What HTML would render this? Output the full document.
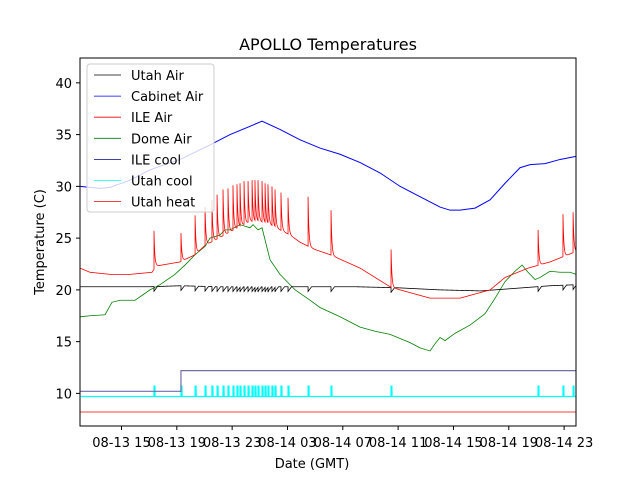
<!DOCTYPE html>
<html><head><meta charset="utf-8"><style>
body{margin:0;background:#fff}
svg text{font-family:"DejaVu Sans","Liberation Sans",sans-serif;fill:#000}
</style></head><body>
<svg id="chart" width="640" height="480" viewBox="0 0 640 480">
<rect width="640" height="480" fill="#fff"/>
<text x="328" y="50" font-size="16" text-anchor="middle">APOLLO Temperatures</text>
<g id="plot"></g>
<g id="axes"></g>
<text x="312" y="468" font-size="13" text-anchor="middle">Date (GMT)</text>
<text transform="translate(44,242) rotate(-90)" font-size="13" text-anchor="middle">Temperature (C)</text>
<g id="legend"></g>
</svg>
<script>
// hours since 08-13 12:00 GMT
const xTickLabels=["08-13 15","08-13 19","08-13 23","08-14 03","08-14 07","08-14 11","08-14 15","08-14 19","08-14 23"];
const xTickHours=[3,7,11,15,19,23,27,31,35];
const yTicks=[10,15,20,25,30,35,40];
const cabinetHours=[0,1.45,2.17,3.62,5.06,7.23,9.4,10.85,12.29,13.16,14.46,15.91,17.35,18.8,20.25,21.69,23.14,24.58,26.03,26.75,27.48,28.56,29.65,30.73,31.81,32.54,33.62,34.71,35.86];
const cabinetVals=[30.0,29.8,29.9,30.6,31.6,32.6,34.0,35.0,35.8,36.3,35.5,34.5,33.7,33.1,32.3,31.3,30.0,29.0,28.0,27.7,27.7,27.9,28.7,30.3,31.8,32.1,32.2,32.6,32.9];
const ileBaseHours=[0,0.72,2.17,3.62,5.21,5.5,7.23,8.32,9.04,9.76,10.85,12.29,13.02,13.74,14.46,15.18,15.91,16.99,18.08,20.25,22.42,23.14,25.31,27.48,29.65,30.73,32.39,33.98,35.86];
const ileBaseVals=[22.1,21.7,21.5,21.5,21.7,22.3,22.7,23.4,24.3,24.8,25.6,26.6,26.6,26.3,25.8,25.3,24.6,23.9,23.4,22.1,20.3,20.0,19.2,19.2,20.0,21.2,22.1,22.7,23.7];
const spikeHours=[5.35,7.3,8.32,9.04,9.54,9.91,10.34,10.7,11.06,11.35,11.57,11.86,12.15,12.44,12.65,12.87,13.16,13.38,13.59,13.88,14.1,14.53,15.04,16.49,18.15,22.49,33.12,34.92,35.65];
const spikePeaks=[25.7,25.5,27.2,28.0,28.7,29.2,29.7,29.8,30.1,30.2,30.3,30.5,30.5,30.6,30.6,30.6,30.5,30.3,30.2,30.0,29.7,29.4,28.9,29.0,27.7,23.9,25.8,27.3,27.5];
const domeHours=[0,0.72,1.81,2.31,2.89,3.98,5.06,5.78,6.87,7.59,8.32,9.04,9.4,10.12,10.48,10.85,11.57,12.29,12.51,12.87,13.16,13.74,14.46,15.55,16.63,17.35,18.8,20.25,21.33,22.42,23.14,23.86,24.58,25.31,25.67,26.03,26.39,27.11,28.2,29.28,30.01,30.73,31.45,31.96,32.39,32.9,33.26,33.98,34.71,35.43,35.86];
const domeVals=[17.4,17.5,17.6,18.8,19.0,19.0,20.0,20.5,21.5,22.4,23.4,24.2,25.0,25.3,25.8,25.8,26.3,26.0,26.3,25.8,26.0,22.9,21.5,20.0,19.0,18.3,17.4,16.4,16.0,15.7,15.3,14.9,14.4,14.1,14.8,15.4,15.1,15.8,16.6,17.7,19.2,20.8,21.8,22.4,21.7,21.0,21.2,21.8,21.7,21.7,21.5];
const utahHours=[0,5,7.3,10,14,17,20,23,26,29,32,34,35.86];
const utahVals=[20.3,20.3,20.4,20.3,20.3,20.3,20.3,20.2,20.0,19.9,20.2,20.4,20.5];
const ileCoolHours=[0,7.3,35.86];
const ileCoolVals=[10.2,12.2,12.2];
const utahCoolBase=[9.7];
const utahCoolOn=[10.7];
const utahHeatVals=[8.2];

const X0=80,X1=576,Y0=58,Y1=426,HMIN=0,HMAX=35.86,VMIN=6.85,VMAX=42.4;
const sx=h=>X0+(h-HMIN)/(HMAX-HMIN)*(X1-X0);
const sy=v=>Y1-(v-VMIN)/(VMAX-VMIN)*(Y1-Y0);
const NS="http://www.w3.org/2000/svg";
function mk(tag,attrs,parent){const e=document.createElementNS(NS,tag);for(const k in attrs)e.setAttribute(k,attrs[k]);parent.appendChild(e);return e;}
function interp(hs,vs,t){if(t<=hs[0])return vs[0];for(let i=1;i<hs.length;i++){if(t<=hs[i]){const f=(t-hs[i-1])/(hs[i]-hs[i-1]);return vs[i-1]+f*(vs[i]-vs[i-1]);}}return vs[vs.length-1];}
function pathOf(pts){return pts.map((p,i)=>(i?"L":"M")+sx(p[0]).toFixed(2)+" "+sy(p[1]).toFixed(2)).join("");}
const plot=document.getElementById('plot');
// sample times
const ts=[];for(let t=0;t<=HMAX;t+=0.01)ts.push(t);
spikeHours.forEach(s=>{ts.push(s-0.005);ts.push(s);});
ts.sort((a,b)=>a-b);

// Utah heat
let p=mk('path',{d:pathOf([[0,utahHeatVals[0]],[HMAX,utahHeatVals[0]]]),stroke:'#ff0000','stroke-width':0.8,fill:'none'},plot);


// Utah cool
const cool=[];ts.forEach(t=>{let on=spikeHours.some(s=>t>=s&&t<s+0.07);cool.push([t,on?utahCoolOn[0]:utahCoolBase[0]]);});
p=mk('path',{d:pathOf(cool),stroke:'#00ffff','stroke-width':1.2,fill:'none'},plot);


// ILE cool step
const ic=[];for(let i=0;i<ileCoolHours.length;i++){if(i>0)ic.push([ileCoolHours[i],ileCoolVals[i-1]]);ic.push([ileCoolHours[i],ileCoolVals[i]]);}
p=mk('path',{d:pathOf(ic),stroke:'#6f6fa8','stroke-width':1.2,fill:'none'},plot);


// Dome
p=mk('path',{d:pathOf(domeHours.map((h,i)=>[h,domeVals[i]])),stroke:'#008000','stroke-width':0.8,fill:'none'},plot);


// Utah air with dips
const ua=ts.map(t=>{let v=interp(utahHours,utahVals,t);spikeHours.forEach(s=>{if(t>=s&&t<s+0.25)v-=0.45*(1-(t-s)/0.25);});return [t,v];});
p=mk('path',{d:pathOf(ua),stroke:'#000','stroke-width':0.8,fill:'none'},plot);


// ILE air with spikes
const ia=ts.map(t=>{let v=interp(ileBaseHours,ileBaseVals,t);let add=0;spikeHours.forEach((s,i)=>{if(t>=s){const b=interp(ileBaseHours,ileBaseVals,s);add=Math.max(add,(spikePeaks[i]-b)*Math.exp(-(t-s)/0.06));}});return [t,v+add];});
p=mk('path',{d:pathOf(ia),stroke:'#ff0000','stroke-width':0.8,fill:'none'},plot);


// Cabinet air
p=mk('path',{d:pathOf(cabinetHours.map((h,i)=>[h,cabinetVals[i]])),stroke:'#0000ff','stroke-width':1,fill:'none'},plot);



// axes
const ax=document.getElementById('axes');
p=mk('rect',{x:X0,y:Y0,width:X1-X0,height:Y1-Y0,fill:'none',stroke:'#000','stroke-width':1},ax);


yTicks.forEach(v=>{const y=sy(v);mk('line',{x1:X0-4,x2:X0,y1:y,y2:y,stroke:'#000'},ax);
const t=mk('text',{x:X0-8,y:y+5,'font-size':13,'text-anchor':'end'},ax);t.textContent=v;

});
xTickHours.forEach((h,i)=>{const x=sx(h);mk('line',{x1:x,x2:x,y1:Y1,y2:Y1+4,stroke:'#000'},ax);
const t=mk('text',{x:x,y:Y1+21,'font-size':13,'text-anchor':'middle'},ax);t.textContent=xTickLabels[i];

});

// legend
const lg=document.getElementById('legend');
mk('rect',{x:87,y:64,width:127,height:148,rx:3,fill:'rgba(255,255,255,0.8)',stroke:'#cccccc'},lg);
const names=["Utah Air","Cabinet Air","ILE Air","Dome Air","ILE cool","Utah cool","Utah heat"];
const cols=["#000","#0000ff","#ff0000","#008000","#000080","#00ffff","#ff0000"];
names.forEach((n,i)=>{const y=75+i*21.1;const g=mk('g',{},lg);


mk('line',{x1:94,x2:121,y1:y,y2:y,stroke:cols[i],'stroke-width':0.8},g);
const t=mk('text',{x:131,y:y+5,'font-size':13},g);t.textContent=n;});
</script>
</body></html>
